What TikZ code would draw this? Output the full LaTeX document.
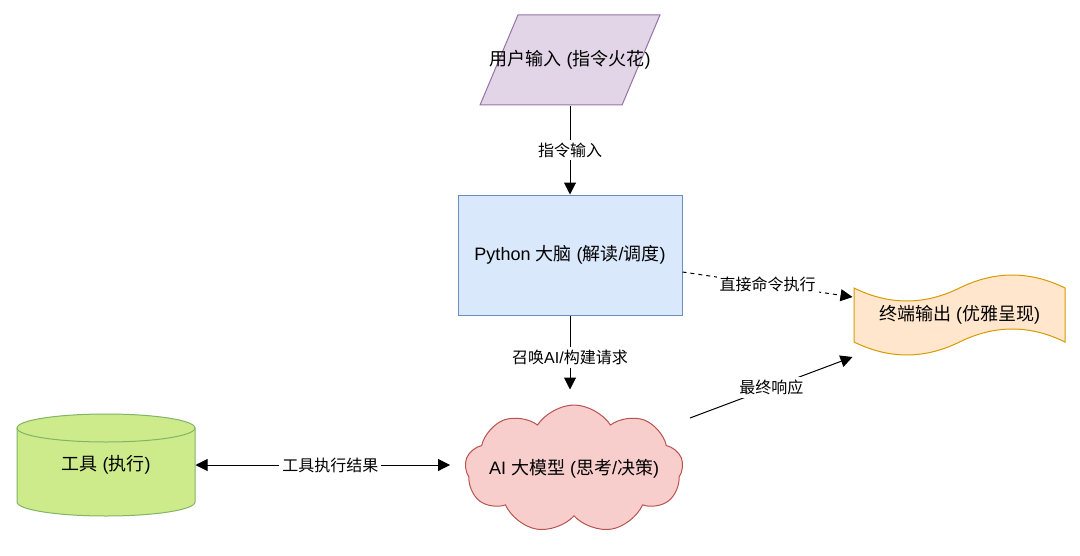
\documentclass[tikz,border=0pt]{standalone}
\usepackage{fontspec}
\setmainfont{Liberation Sans}
\newfontfamily\cjk{Noto Sans CJK SC}
\newcommand{\zh}[1]{{\cjk #1}}
\usetikzlibrary{shapes.geometric,shapes.symbols,arrows.meta,calc}
\definecolor{inFill}{HTML}{E1D5E7}
\definecolor{inDraw}{HTML}{9673A6}
\definecolor{brainFill}{HTML}{DAE8FC}
\definecolor{brainDraw}{HTML}{6C8EBF}
\definecolor{llmFill}{HTML}{F8CECC}
\definecolor{llmDraw}{HTML}{B85450}
\definecolor{toolFill}{HTML}{CDEB8B}
\definecolor{toolDraw}{HTML}{82B366}
\definecolor{outFill}{HTML}{FFE6CC}
\definecolor{outDraw}{HTML}{D79B00}

\begin{document}
\begin{tikzpicture}[x=0.5pt,y=-0.5pt,font=\fontsize{9}{11}\selectfont,line width=0.5pt,
    arr/.style={-{Triangle[length=6pt,width=6pt]}},
    lbl/.style={fill=white,inner sep=1.5pt,font=\fontsize{8}{10}\selectfont}]
    \fill[white] (0,0) rectangle (1080,556);
    \useasboundingbox (0,0) rectangle (1080,556);
    % nodes
    \node[trapezium,trapezium left angle=70,trapezium right angle=110,trapezium stretches=true,
          minimum width=90pt,minimum height=45pt,inner sep=2pt,draw=inDraw,fill=inFill] (in) at (570,60) {};
    \node[rectangle,minimum width=112pt,minimum height=60pt,draw=brainDraw,fill=brainFill] (brain) at (570,255) {Python \zh{大脑} (\zh{解读}/\zh{调度})};
    \node[cloud,cloud puffs=9,cloud puff arc=115,cloud ignores aspect,minimum width=109pt,minimum height=64pt,
          inner sep=2pt,draw=llmDraw,fill=llmFill] (llm) at (574,469) {};
    \node[minimum width=89pt,minimum height=52pt] (tool) at (106,465) {};
    \node[minimum width=105.5pt,minimum height=27pt] (out) at (959.5,315) {};
    % cylinder and tape outlines
    \begin{scope}[shift={(tool.center)}]
      \draw[draw=toolDraw,fill=toolFill] (-89,-37) arc[start angle=180,end angle=360,x radius=89,y radius=14]
        -- (89,37) arc[start angle=0,end angle=180,x radius=89,y radius=14] -- cycle;
      \draw[toolDraw] (-89,-37) arc[start angle=180,end angle=0,x radius=89,y radius=14];
    \end{scope}
    \begin{scope}[shift={(out.center)}]
      \draw[draw=outDraw,fill=outFill] (-105.5,-27) .. controls (-70.3,-9.7) and (-35.2,-9.7) .. (0,-27)
        .. controls (35.2,-44.3) and (70.3,-44.3) .. (105.5,-27) -- (105.5,27)
        .. controls (70.3,9.7) and (35.2,9.7) .. (0,27)
        .. controls (-35.2,44.3) and (-70.3,44.3) .. (-105.5,27) -- cycle;
    \end{scope}
    \node at (in.center) {\zh{用户输入} (\zh{指令火花})};
    \node at (llm.center) {AI \zh{大模型} (\zh{思考}/\zh{决策})};
    \node at (tool.center) {\zh{工具} (\zh{执行})};
    \node at (out.center) {\zh{终端输出} (\zh{优雅呈现})};
    % connectors
    \draw[arr] (in.south) -- node[lbl] {\zh{指令输入}} (brain.north);
    \draw[arr,shorten >=7.5pt] (brain.south) -- node[lbl,pos=0.47] {\zh{召唤}AI/\zh{构建请求}} (brain.south |- llm.north);
    \draw[{Triangle[length=6pt,width=6pt]}-{Triangle[length=6pt,width=6pt]},shorten >=7.5pt] (tool.east) -- node[lbl] {\zh{工具执行结果}} (tool.east -| llm.west);
    \draw[arr,dashed,dash pattern=on 2pt off 2pt] ($(brain.east)+(0,17)$) -- node[lbl] {\zh{直接命令执行}} ($(out.west)+(-1,-18)$);
    \draw[arr] ($(llm.east)+(7,-51)$) -- node[lbl] {\zh{最终响应}} ($(out.west)+(-1,42)$);
\end{tikzpicture}
\end{document}
